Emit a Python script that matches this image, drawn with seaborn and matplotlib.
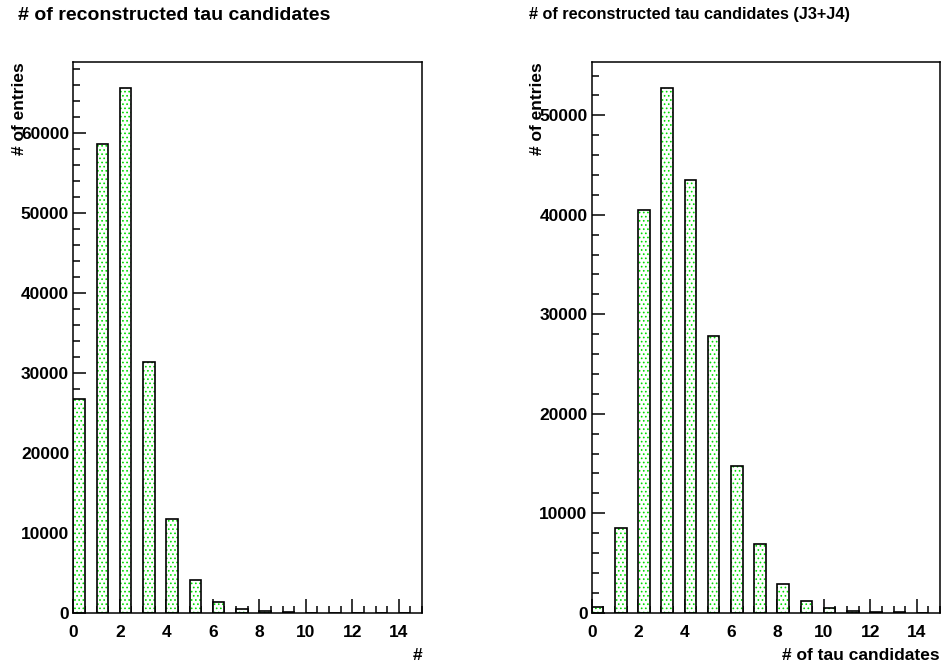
import numpy as np
import pandas as pd
import matplotlib
matplotlib.use("Agg")
import matplotlib.pyplot as plt
from matplotlib.ticker import MultipleLocator
import seaborn as sns

# Number of reconstructed tau candidates per event (bins 0..14)
bins = list(range(15))
counts_all = [26700, 58700, 65600, 31420, 11670, 4100, 1400, 500, 150, 40, 10, 0, 0, 0, 0]
counts_j3j4 = [600, 8550, 40450, 52700, 43460, 27850, 14720, 6920, 2900, 1170, 450, 130, 60, 20, 0]

titles = ["# of reconstructed tau candidates", "# of reconstructed tau candidates (J3+J4)"]
xlabels = ["#", "# of tau candidates"]
ylabel = "# of entries"

sns.set_style("ticks")
plt.rcParams["font.family"] = ["Liberation Sans", "DejaVu Sans"]
plt.rcParams["font.weight"] = "bold"
plt.rcParams["text.color"] = "black"
plt.rcParams["axes.labelcolor"] = "black"
plt.rcParams["hatch.linewidth"] = 0.7

GREEN = "#00e000"

fig = plt.figure(figsize=(9.41, 6.71), dpi=100)
axes = [fig.add_axes([0.0779, 0.0869, 0.3706, 0.8203]),
        fig.add_axes([0.6288, 0.0869, 0.3701, 0.8203])]


def draw_hist(ax, counts):
    df = pd.DataFrame({"pos": np.array(bins) + 0.25, "n": counts})
    # dotted green fill
    sns.barplot(data=df, x="pos", y="n", native_scale=True, width=0.5,
                color="white", errorbar=None, ax=ax)
    for p in ax.containers[-1]:
        p.set_facecolor("white")
        p.set_edgecolor(GREEN)
        p.set_hatch("....")
        p.set_linewidth(0)
    # black outline
    sns.barplot(data=df, x="pos", y="n", native_scale=True, width=0.5,
                color="white", errorbar=None, ax=ax)
    for p in ax.containers[-1]:
        p.set_facecolor("none")
        p.set_edgecolor("black")
        p.set_linewidth(1.2)

    ax.set_xlim(0, 15)
    ax.set_ylim(0, 1.05 * max(counts))
    ax.xaxis.set_major_locator(MultipleLocator(2))
    ax.xaxis.set_minor_locator(MultipleLocator(0.5))
    ax.yaxis.set_major_locator(MultipleLocator(10000))
    ax.yaxis.set_minor_locator(MultipleLocator(2000))
    ax.tick_params(which="both", direction="in", width=1.1, top=False, right=False,
                   labelsize=12.5, colors="black")
    ax.tick_params(axis="x", which="major", length=10, pad=9)
    ax.tick_params(axis="x", which="minor", length=5)
    ax.tick_params(axis="y", which="major", length=9.5, pad=3)
    ax.tick_params(axis="y", which="minor", length=5.3)
    for lab in ax.get_xticklabels() + ax.get_yticklabels():
        lab.set_fontweight("bold")
    for s in ax.spines.values():
        s.set_visible(True)
        s.set_color("black")
        s.set_linewidth(1.1)


for ax, counts, xl in zip(axes, [counts_all, counts_j3j4], xlabels):
    draw_hist(ax, counts)
    ax.set_xlabel(xl, fontsize=12.5, fontweight="bold", loc="right", color="black")
    ax.xaxis.set_label_coords(1.0, -0.065)
    ax.set_ylabel(ylabel, fontsize=12.5, fontweight="bold", loc="top", color="black")
    ax.yaxis.set_label_coords(-0.134, 1.0)

fig.text(18 / 941, 1 - 15 / 671, titles[0], fontsize=14, fontweight="bold",
         ha="left", va="center", color="black")
fig.text(529 / 941, 1 - 15 / 671, titles[1], fontsize=11.7, fontweight="bold",
         ha="left", va="center", color="black")

fig.savefig("out.png", dpi=100)
